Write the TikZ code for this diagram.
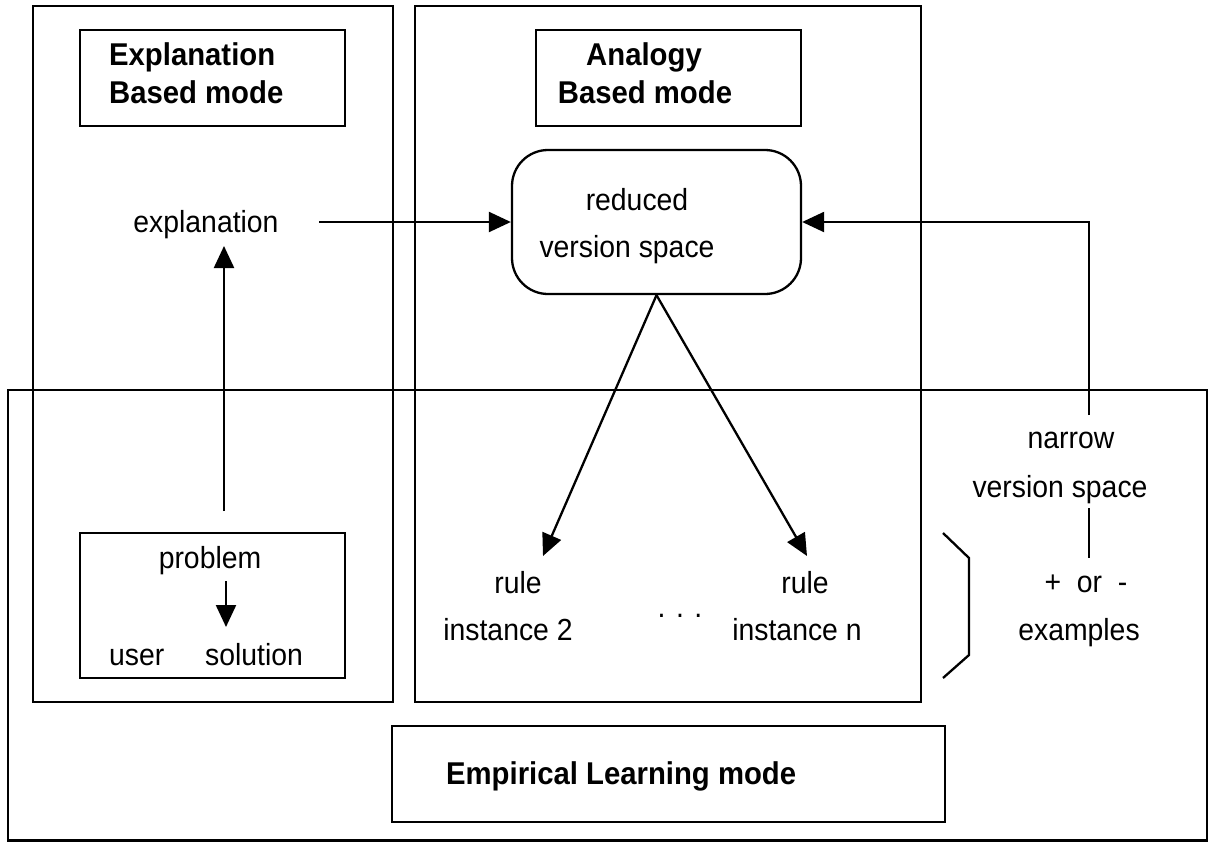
\documentclass[tikz,border=0pt]{standalone}
\usepackage{fontspec}
\setmainfont[FakeStretch=0.93]{Liberation Sans}
\usetikzlibrary{arrows.meta}
\begin{document}
\begin{tikzpicture}[x=1pt,y=-1pt,
  line width=2.3pt,
  frame/.style={draw, line width=2.3pt, inner sep=0pt},
  txt/.style={anchor=base, inner sep=0pt, font=\fontsize{30.5}{36}\selectfont},
  btxt/.style={anchor=base west, inner sep=0pt, font=\bfseries\fontsize{31.5}{37}\selectfont},
  arr/.style={-{Triangle[length=22pt,width=20pt]}, line width=2.3pt}]
\path[use as bounding box] (0,0) rectangle (1209,843);

% mode regions
\draw (33,6) rectangle (393,702);
\draw (415,6) rectangle (921,702);
\draw (8,390) rectangle (1207,840.5);

% title boxes
\node[frame, minimum width=265pt, minimum height=96pt] (expbox) at (212.5,78) {};
\node[frame, minimum width=265pt, minimum height=96pt] (anabox) at (668.5,78) {};
\node[frame, minimum width=553pt, minimum height=96pt] (empbox) at (668.5,774) {};
\node[btxt] (t1a) at (108,65) {Explanation};
\node[btxt] (t1b) at (108,103) {Based mode};
\node[btxt, anchor=base] (t2a) at (644,65) {Analogy};
\node[btxt, anchor=base] (t2b) at (645,103) {Based mode};
\node[btxt] (emp) at (445,784) {Empirical Learning mode};

% reduced version space
\node[frame, rounded corners=36pt, minimum width=289pt, minimum height=144pt] (rvs) at (656.5,222) {};
\node[txt] (r1) at (637,210) {reduced};
\node[txt] (r2) at (627,257) {version space};

% explanation side
\node[txt] (expl) at (206,232) {explanation};
\node[frame, minimum width=265pt, minimum height=145pt] (probbox) at (212.5,605.5) {};
\node[txt] (prob) at (210,568) {problem};
\node[txt, anchor=base west] (user) at (108,665) {user};
\node[txt, anchor=base west] (sol) at (204,665) {solution};

% rule instances
\node[txt] (ru1) at (518,593) {rule};
\node[txt] (in2) at (508,640) {instance 2};
\node[txt] (ru2) at (805,593) {rule};
\node[txt] (inn) at (797,640) {instance n};
\node[txt] (dots) at (680,617) {. . .};

% examples
\node[txt] (nar) at (1071,448) {narrow};
\node[txt] (nvs) at (1060,497) {version space};
\node[txt] (pm) at (1086,592) {+\ \ or\ \ -};
\node[txt] (exs) at (1079,640) {examples};

% connector end points
\coordinate (ea) at (319,222);
\coordinate (ua) at (224,511);
\coordinate (ub) at (224,246);
\coordinate (pa) at (226,581);
\coordinate (pb) at (226,627);
\coordinate (ia) at (543,556);
\coordinate (ib) at (807,556);
\coordinate (nv) at (1089,415);
\coordinate (la) at (1089,508);
\coordinate (lb) at (1089,558);
\coordinate (b1) at (943,533);
\coordinate (b2) at (969,558);
\coordinate (b3) at (969,655);
\coordinate (b4) at (943,678);

% connectors
\draw[arr] (ea) -- (rvs.west);
\draw[arr] (ua) -- (ub);
\draw[arr] (pa) -- (pb);
\draw[arr] (rvs.south) -- (ia);
\draw[arr] (rvs.south) -- (ib);
\draw[arr] (nv) |- (rvs.east);
\draw (la) -- (lb);
\draw (b1) -- (b2) -- (b3) -- (b4);
\end{tikzpicture}
\end{document}
